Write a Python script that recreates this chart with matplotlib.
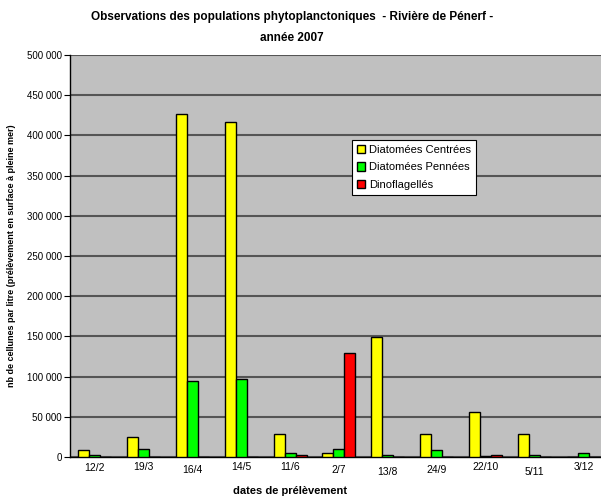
import numpy as np
import matplotlib.pyplot as plt
from matplotlib.ticker import FuncFormatter

plt.rcParams['font.family'] = ['Liberation Sans', 'DejaVu Sans']

dates = ['12/2', '19/3', '16/4', '14/5', '11/6', '2/7', '13/8', '24/9', '22/10', '5/11', '3/12']
centrees = [9000, 25000, 426000, 417000, 28000, 5000, 149000, 29000, 56000, 29000, 500]
pennees = [3000, 10000, 95000, 97000, 5000, 10000, 3000, 9000, 1000, 3000, 5000]
dinos = [500, 0, 0, 0, 3000, 129000, 0, 0, 2000, 0, 0]
# little vertical jitter of the date labels, as in the original
lab_dy = [1, 0, 3, 0, 0, 3, 5, 3, 0, 5, 0]

fig = plt.figure(figsize=(6.01, 5.01), dpi=100)
ax = fig.add_axes([70/601, 44/501, 531/601, 402/501])
ax.set_facecolor('#c0c0c0')

x = np.arange(len(dates))
w = 0.225
series = [(centrees, '#ffff00', 'Diatomées Centrées'),
          (pennees, '#00ff00', 'Diatomées Pennées'),
          (dinos, '#ff0000', 'Dinoflagellés')]
for i, (vals, col, lab) in enumerate(series):
    ax.bar(x + (i-1)*w, vals, w, color=col, edgecolor='black', linewidth=1, label=lab, zorder=3)

ax.set_ylim(0, 500000)
ax.set_xlim(-0.5, 10.36)
ax.set_yticks(np.arange(0, 500001, 50000))
ax.yaxis.set_major_formatter(FuncFormatter(lambda v, p: '{:,}'.format(int(v)).replace(',', ' ')))
ax.grid(axis='y', color='#555555', linewidth=1.5, zorder=1)
ax.tick_params(axis='y', labelsize=7, length=4, color='black', pad=2)
ax.set_xticks(x)
ax.set_xticklabels(dates, fontsize=7.5)
ax.tick_params(axis='x', length=0, pad=3.5)
for t, dy in zip(ax.get_xticklabels(), lab_dy):
    t.set_y(-dy/402)

for s in ['top', 'right']:
    ax.spines[s].set_visible(False)
ax.spines['left'].set_linewidth(1)
ax.spines['bottom'].set_linewidth(1)

ax.set_ylabel('nb de cellunes par litre (prélèvement en surface à pleine mer)', fontsize=6.5, fontweight='bold', labelpad=8)
fig.text(0.483, 1-491/501, 'dates de prélèvement', ha='center', va='center', fontsize=8, fontweight='bold')
fig.text(0.486, 0.978, 'Observations des populations phytoplanctoniques  - Rivière de Pénerf -\nannée 2007',
         ha='center', va='top', fontsize=8.5, fontweight='bold', linespacing=2.0)

leg = ax.legend(loc='upper left', bbox_to_anchor=(276/531, 1-79/402), fontsize=8, frameon=True,
                fancybox=False, edgecolor='black', handlelength=0.75, handleheight=0.75,
                handletextpad=0.3, borderpad=0.5, labelspacing=0.65)
leg.get_frame().set_linewidth(0.8)
leg.get_frame().set_alpha(1)

fig.savefig('out.png', dpi=100)
